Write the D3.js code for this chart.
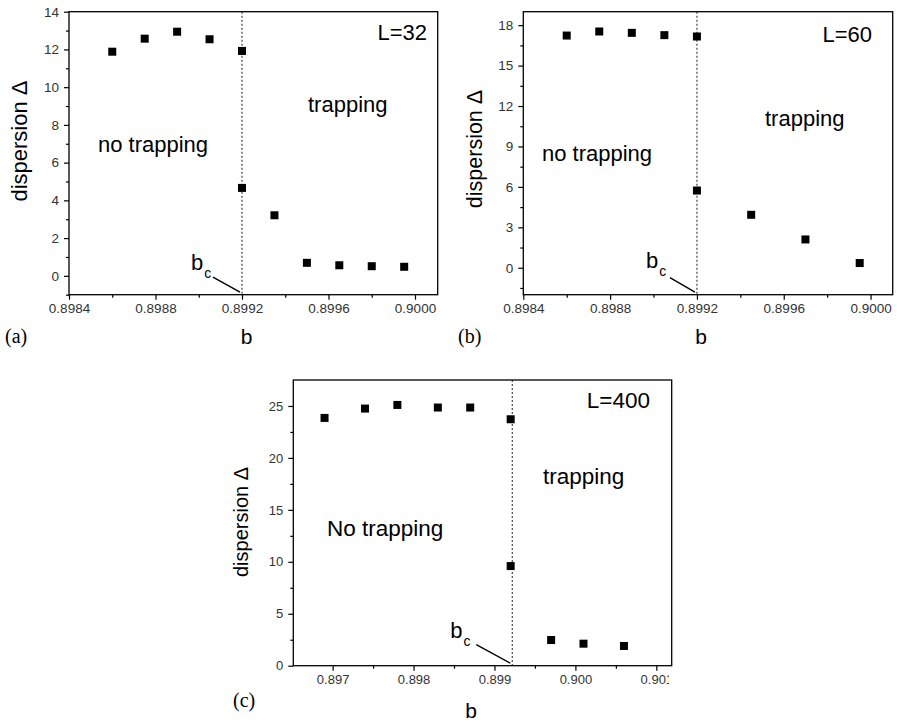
<!DOCTYPE html>
<html>
<head>
<meta charset="utf-8">
<script src="https://cdn.jsdelivr.net/npm/d3@7"></script>
<style>
  html, body { margin: 0; padding: 0; background: #fff; }
  svg { display: block; }
</style>
</head>
<body>
<svg id="chart" width="897" height="723" font-family="Liberation Sans, Arial, Helvetica, sans-serif"></svg>
<script>
// ---------- data ----------
const bA = [0.8986, 0.89875, 0.8989, 0.89905, 0.8992, 0.8992, 0.89935, 0.8995, 0.89965, 0.8998, 0.89995];
const dA = [11.88, 12.57, 12.94, 12.54, 11.92, 4.66, 3.21, 0.69, 0.56, 0.51, 0.48];

const bB = [0.8986, 0.89875, 0.8989, 0.89905, 0.8992, 0.8992, 0.89945, 0.8997, 0.89995];
const dB = [17.23, 17.53, 17.43, 17.26, 17.16, 5.73, 3.93, 2.1, 0.35];

const bC = [0.8969, 0.8974, 0.8978, 0.8983, 0.8987, 0.8992, 0.8992, 0.8997, 0.9001, 0.9006];
const dC = [23.85, 24.75, 25.1, 24.85, 24.85, 23.72, 9.59, 2.47, 2.12, 1.9];

const bcA = 0.8992, bcB = 0.8992, bcC = 0.89922;

const xTicksAB = [0.8984, 0.8988, 0.8992, 0.8996, 0.9000];
const xMinorAB = [0.8986, 0.8990, 0.8994, 0.8998];
const yTicksA = [0, 2, 4, 6, 8, 10, 12, 14];
const yMinorA = [-1, 1, 3, 5, 7, 9, 11, 13];
const yTicksB = [0, 3, 6, 9, 12, 15, 18];
const yMinorB = [-1.5, 1.5, 4.5, 7.5, 10.5, 13.5, 16.5];
const xTicksC = [0.897, 0.898, 0.899, 0.900, 0.901];
const xMinorC = [0.8975, 0.8985, 0.8995, 0.9005];
const yTicksC = [0, 5, 10, 15, 20, 25];
const yMinorC = [2.5, 7.5, 12.5, 17.5, 22.5];

const labelsA = { L: "L=32", left: "no trapping", right: "trapping", tag: "(a)" };
const labelsB = { L: "L=60", left: "no trapping", right: "trapping", tag: "(b)" };
const labelsC = { L: "L=400", left: "No trapping", right: "trapping", tag: "(c)" };

// ---------- drawing ----------
const svg = d3.select("#chart");
const defs = svg.append("defs");
const SANS = "'Liberation Sans', Arial, Helvetica, sans-serif";
const SERIF = "'Liberation Serif', 'Times New Roman', serif";

function panel(cfg) {
  const g = svg.append("g");
  const x = d3.scaleLinear().domain(cfg.xDomain).range([cfg.left, cfg.right]);
  const y = d3.scaleLinear().domain(cfg.yDomain).range([cfg.bottom, cfg.top]);

  // dotted critical line
  g.append("line")
    .attr("x1", x(cfg.bc)).attr("x2", x(cfg.bc))
    .attr("y1", cfg.top).attr("y2", cfg.bottom)
    .attr("stroke", "#444").attr("stroke-width", 1.2)
    .attr("stroke-dasharray", "2,2");

  // x axis
  const xAxis = d3.axisBottom(x).tickValues(cfg.xTicks).tickFormat(cfg.xFmt)
    .tickSizeInner(5).tickSizeOuter(0).tickPadding(4);
  const gx = g.append("g").attr("transform", `translate(0,${cfg.bottom})`).call(xAxis);
  gx.select(".domain").remove();
  gx.selectAll("text").attr("font-size", cfg.tickFont).attr("fill", "#333").style("font-family", SANS);
  gx.selectAll("line").attr("stroke-width", 1.2);
  if (cfg.clipRight) {
    const id = "clip" + cfg.tag.replace(/\W/g, "");
    defs.append("clipPath").attr("id", id).append("rect")
      .attr("x", 0).attr("y", 0).attr("width", cfg.clipRight).attr("height", 723);
    gx.attr("clip-path", `url(#${id})`);
  }
  const xMinor = d3.axisBottom(x).tickValues(cfg.xMinor).tickFormat("").tickSizeInner(3).tickSizeOuter(0);
  const gxm = g.append("g").attr("transform", `translate(0,${cfg.bottom})`).call(xMinor);
  gxm.select(".domain").remove();
  gxm.selectAll("line").attr("stroke-width", 1.2);

  // y axis
  const yAxis = d3.axisLeft(y).tickValues(cfg.yTicks).tickFormat(d3.format("d"))
    .tickSizeInner(5).tickSizeOuter(0).tickPadding(5);
  const gy = g.append("g").attr("transform", `translate(${cfg.left},0)`).call(yAxis);
  gy.select(".domain").remove();
  gy.selectAll("text").attr("font-size", cfg.tickFont).attr("fill", "#333").style("font-family", SANS);
  gy.selectAll("line").attr("stroke-width", 1.2);
  const yMinor = d3.axisLeft(y).tickValues(cfg.yMinor).tickFormat("").tickSizeInner(3).tickSizeOuter(0);
  const gym = g.append("g").attr("transform", `translate(${cfg.left},0)`).call(yMinor);
  gym.select(".domain").remove();
  gym.selectAll("line").attr("stroke-width", 1.2);

  // frame
  g.append("rect")
    .attr("x", cfg.left).attr("y", cfg.top)
    .attr("width", cfg.right - cfg.left).attr("height", cfg.bottom - cfg.top)
    .attr("fill", "none").attr("stroke", "#000").attr("stroke-width", 1.3);

  // markers
  const pts = cfg.b.map((v, i) => [v, cfg.d[i]]);
  const s = 8;
  g.selectAll("rect.pt").data(pts).join("rect").attr("class", "pt")
    .attr("x", d => x(d[0]) - s / 2).attr("y", d => y(d[1]) - s / 2)
    .attr("width", s).attr("height", s).attr("fill", "#000");

  // texts
  const t = cfg.text;
  g.append("text").attr("x", t.Lx).attr("y", t.Ly).attr("text-anchor", "end")
    .attr("font-size", t.size).style("font-family", SANS).text(cfg.labels.L);
  g.append("text").attr("x", t.rx).attr("y", t.ry).attr("font-size", t.size)
    .style("font-family", SANS).text(cfg.labels.right);
  g.append("text").attr("x", t.lx).attr("y", t.ly).attr("font-size", t.size)
    .style("font-family", SANS).text(cfg.labels.left);

  // y title
  g.append("text")
    .attr("transform", `translate(${t.ytx},${t.yty}) rotate(-90)`)
    .attr("text-anchor", "middle").attr("font-size", t.ytSize).style("font-family", SANS)
    .text("dispersion \u0394");

  // x title
  g.append("text").attr("x", t.xtx).attr("y", t.xty).attr("text-anchor", "middle")
    .attr("font-size", 21).style("font-family", SANS).text("b");

  // tag
  g.append("text").attr("x", t.tagx).attr("y", t.tagy)
    .style("font-family", SERIF)
    .attr("font-size", 20).text(cfg.labels.tag);

  // b_c annotation
  const bx = x(cfg.bc), by = cfg.bottom;
  g.append("line")
    .attr("x1", bx + t.bcLine[0]).attr("y1", by + t.bcLine[1])
    .attr("x2", bx - 2).attr("y2", by - 2.5)
    .attr("stroke", "#000").attr("stroke-width", 1.4);
  const bt = g.append("text").attr("x", bx + t.bcText[0]).attr("y", by + t.bcText[1])
    .attr("font-size", 22).style("font-family", SANS);
  bt.append("tspan").text("b");
  bt.append("tspan").attr("dx", 1).attr("dy", 8).attr("font-size", 14).text("c");
}

panel({
  tag: "a", b: bA, d: dA, bc: bcA,
  left: 69, right: 437.7, top: 11.7, bottom: 294.7,
  xDomain: [0.8984, 0.900105], yDomain: [-1, 14],
  xTicks: xTicksAB, xMinor: xMinorAB, yTicks: yTicksA, yMinor: yMinorA,
  xFmt: d3.format(".4f"), tickFont: 13.5, labels: labelsA,
  text: { size: 22, Lx: 427, Ly: 40, rx: 308, ry: 112, lx: 98, ly: 152,
          ytx: 27, yty: 141, ytSize: 22, xtx: 246.5, xty: 344, tagx: 5, tagy: 343,
          bcLine: [-29, -17.5], bcText: [-51, -25] }
});

panel({
  tag: "b", b: bB, d: dB, bc: bcB,
  left: 523.3, right: 892.7, top: 11.7, bottom: 294.7,
  xDomain: [0.8984, 0.900102], yDomain: [-2, 19],
  xTicks: xTicksAB, xMinor: xMinorAB, yTicks: yTicksB, yMinor: yMinorB,
  xFmt: d3.format(".4f"), tickFont: 13.5, labels: labelsB,
  text: { size: 22, Lx: 872, Ly: 42, rx: 765, ry: 126, lx: 542, ly: 160.7,
          ytx: 482, yty: 149, ytSize: 21.5, xtx: 701, xty: 344, tagx: 458, tagy: 343,
          bcLine: [-27, -17], bcText: [-51, -27] }
});

panel({
  tag: "c", b: bC, d: dC, bc: bcC,
  left: 293.3, right: 671.7, top: 380, bottom: 665.7,
  xDomain: [0.896514, 0.90119], yDomain: [0, 27.5],
  xTicks: xTicksC, xMinor: xMinorC, yTicks: yTicksC, yMinor: yMinorC,
  xFmt: d3.format(".3f"), tickFont: 13, labels: labelsC, clipRight: 669,
  text: { size: 22.5, Lx: 650, Ly: 408, rx: 543, ry: 484, lx: 327, ly: 536,
          ytx: 248, yty: 522, ytSize: 20, xtx: 471, xty: 718, tagx: 233, tagy: 707,
          bcLine: [-36, -21], bcText: [-62, -28] }
});
</script>
</body>
</html>
